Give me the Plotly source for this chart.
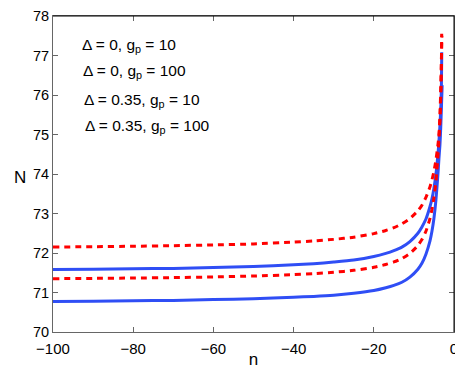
import plotly.graph_objects as go

# values
n_ru = [-100, -90, -80, -70, -60, -50, -40, -35, -30, -25, -20, -17, -15, -13, -11,
        -9, -8, -7, -6, -5.5, -5, -4.5, -4, -3.75, -3.5, -3.3, -3.15, -3.07]
N_ru = [72.15, 72.16, 72.17, 72.185, 72.205, 72.23, 72.275, 72.305, 72.345, 72.40,
        72.49, 72.57, 72.64, 72.74, 72.87, 73.07, 73.21, 73.41, 73.67, 73.85,
        74.07, 74.36, 74.74, 74.98, 75.35, 75.95, 76.75, 77.55]

n_rl = [-100, -90, -80, -70, -60, -50, -40, -35, -30, -25, -20, -17, -15, -13, -11,
        -9, -8, -7, -6, -5.5, -5, -4.5, -4, -3.75, -3.5, -3.3, -3.15, -3.03]
N_rl = [71.35, 71.357, 71.366, 71.378, 71.394, 71.417, 71.452, 71.477, 71.511, 71.561,
        71.637, 71.708, 71.773, 71.861, 71.989, 72.19, 72.34, 72.55, 72.87, 73.10,
        73.40, 73.82, 74.46, 74.91, 75.51, 76.16, 76.80, 77.50]

n_bu = [-100, -90, -80, -70, -60, -50, -40, -35, -30, -25, -20, -17, -15, -13, -11,
        -9, -8, -7, -6, -5.5, -5, -4.5, -4, -3.75, -3.5, -3.3, -3.15, -3.05]
N_bu = [71.58, 71.59, 71.60, 71.61, 71.63, 71.66, 71.70, 71.73, 71.77, 71.82,
        71.91, 71.99, 72.06, 72.15, 72.29, 72.50, 72.66, 72.86, 73.17, 73.37,
        73.64, 74.00, 74.50, 74.83, 75.24, 75.66, 76.15, 77.08]

n_bl = [-100, -90, -80, -70, -60, -50, -40, -35, -30, -25, -20, -17, -15, -13, -11,
        -9, -8, -7, -6, -5.5, -5, -4.5, -4, -3.75, -3.5, -3.3, -3.1, -2.95]
N_bl = [70.77, 70.78, 70.79, 70.80, 70.82, 70.84, 70.88, 70.90, 70.93, 70.98,
        71.05, 71.12, 71.18, 71.26, 71.39, 71.59, 71.74, 71.97, 72.30, 72.55,
        72.88, 73.35, 74.00, 74.40, 74.75, 75.20, 75.80, 76.25]

legend_labels = [
    "Δ = 0, g<sub>p</sub> = 10",
    "Δ = 0, g<sub>p</sub> = 100",
    "Δ = 0.35, g<sub>p</sub> = 10",
    "Δ = 0.35, g<sub>p</sub> = 100",
]

BLUE = '#2f4ef5'
RED = '#ff0000'
FONT = 'Liberation Sans, Arial, sans-serif'

fig = go.Figure()
for xs, ys, color, dash in [
    (n_bl, N_bl, BLUE, 'solid'),
    (n_bu, N_bu, BLUE, 'solid'),
    (n_rl, N_rl, RED, '6px,5px'),
    (n_ru, N_ru, RED, '6px,5px'),
]:
    fig.add_trace(go.Scatter(
        x=xs, y=ys, mode='lines',
        line=dict(color=color, width=3, dash=dash, shape='spline', smoothing=0.6),
        showlegend=False, hoverinfo='skip',
    ))

# legend block is plain text in the reference
legend_x = [0.068, 0.069, 0.072, 0.074]
legend_y = [0.908, 0.823, 0.734, 0.649]
for label, lx, ly in zip(legend_labels, legend_x, legend_y):
    fig.add_annotation(
        xref='paper', yref='paper', x=lx, y=ly,
        text=label, showarrow=False, xanchor='left', yanchor='middle',
        font=dict(size=15.5, color='black', family=FONT),
    )

axis_common = dict(
    showgrid=False, zeroline=False, ticks='inside', ticklen=5,
    tickcolor='#666', showline=True, linecolor='#666', linewidth=1,
    mirror='ticks', automargin=False, ticklabeloverflow='allow',
)
fig.update_xaxes(range=[-100, 0], tickvals=[-100, -80, -60, -40, -20, 0],
                 ticklabelstandoff=3,
                 tickfont=dict(size=15, color='black', family=FONT),
                 title=dict(text='n', font=dict(size=17, family=FONT), standoff=0),
                 **axis_common)
fig.update_yaxes(range=[70, 78], dtick=1, title=None,
                 tickfont=dict(size=14.5, color='black', family=FONT),
                 **axis_common)

# top/right box edges in black
fig.add_shape(type='line', xref='paper', yref='paper', x0=0, x1=1, y0=1, y1=1,
              line=dict(color='black', width=1))
fig.add_shape(type='line', xref='paper', yref='paper', x0=1, x1=1, y0=0, y1=1,
              line=dict(color='black', width=1))

fig.add_annotation(xref='paper', yref='paper', x=-0.102, y=0.49, text='N',
                   showarrow=False, font=dict(size=17, color='black', family=FONT))

# page body has an 8px margin, so the figure is sized/offset to land on the reference
fig.update_layout(
    width=455, height=361,
    margin=dict(l=45, r=9, t=8, b=37),
    plot_bgcolor='white', paper_bgcolor='white',
    font=dict(family=FONT, color='black'),
)

fig.write_html("out.html")
